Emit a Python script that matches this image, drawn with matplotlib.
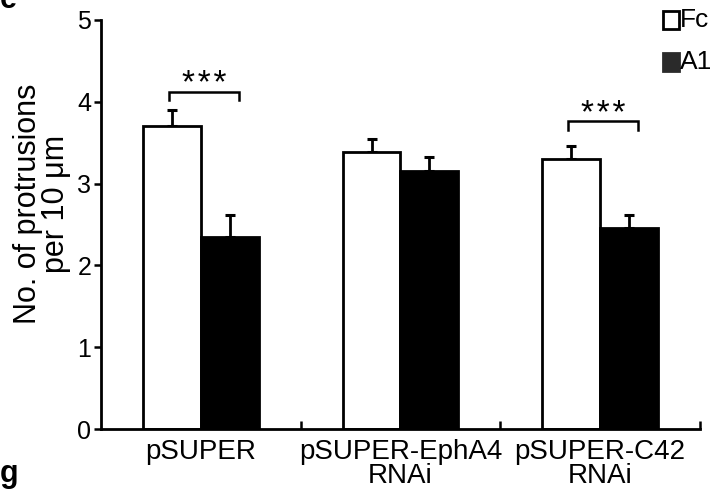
import matplotlib
matplotlib.use("Agg")
import matplotlib.pyplot as plt
from matplotlib.patches import Rectangle
import numpy as np

plt.rcParams['font.family'] = ['Liberation Sans', 'DejaVu Sans']

categories = ["pSUPER", "pSUPER-EphA4\nRNAi", "pSUPER-C42\nRNAi"]
fc_vals = [3.70, 3.39, 3.30]
fc_err = [0.20, 0.15, 0.16]
a1_vals = [2.35, 3.15, 2.46]
a1_err = [0.27, 0.17, 0.15]
series_names = ["Fc", "A1"]
yticks = [0, 1, 2, 3, 4, 5]
sig_labels = ["*\u200a*\u200a*", "", "*\u200a*\u200a*"]

fig = plt.figure(figsize=(7.19, 4.96), dpi=100)
ax = fig.add_axes([0.1405, 0.135, 0.833, 0.825])

centers = np.arange(len(categories)) + 0.5
w = 0.29
ax.bar(centers - w / 2, fc_vals, w, color="white", edgecolor="black", linewidth=2, zorder=2)
ax.bar(centers + w / 2, a1_vals, w, color="black", edgecolor="black", linewidth=2, zorder=2)
ax.errorbar(centers - w / 2, fc_vals, yerr=[np.zeros(3), fc_err], fmt="none",
            ecolor="black", elinewidth=2, capsize=3.5, capthick=2.2, zorder=1)
ax.errorbar(centers + w / 2, a1_vals, yerr=[np.zeros(3), a1_err], fmt="none",
            ecolor="black", elinewidth=2, capsize=3.5, capthick=2.2, zorder=1)

bracket_gap = [0.22, 0.0, 0.30]
for i, lab in enumerate(sig_labels):
    if not lab:
        continue
    top = max(fc_vals[i] + fc_err[i], a1_vals[i] + a1_err[i]) + bracket_gap[i]
    x0 = centers[i] - 0.16
    x1 = centers[i] + 0.19
    ax.plot([x0, x0, x1, x1], [top - 0.1, top, top, top - 0.1], color="black", lw=1.8,
            solid_joinstyle="miter")
    ax.text((x0 + x1) / 2, top - 0.02, lab, ha="center", va="baseline", fontsize=24)

ax.set_xlim(0, 3)
ax.set_ylim(0, 5)
ax.set_yticks(yticks)
ax.set_xticks(centers)
ax.set_xticklabels(categories, fontsize=20, linespacing=0.92)
ax.tick_params(axis="x", length=0, pad=7)
ax.set_xticks([1, 2, 3], minor=True)
ax.tick_params(axis="x", which="minor", direction="in", length=6, width=1.8)
ax.tick_params(axis="y", direction="out", length=5, width=1.8, labelsize=18, pad=2)
for s in ["top", "right"]:
    ax.spines[s].set_visible(False)
for s in ["left", "bottom"]:
    ax.spines[s].set_linewidth(2)

ax.set_ylabel("No. of protrusions\nper 10 μm", fontsize=22, linespacing=0.92)
ax.yaxis.set_label_coords(-0.05, 0.55)

# legend (manual, figure pixel coordinates converted to fraction)
W, H = 719.0, 496.0
leg_y = [20, 62]
leg_colors = ["white", "#2a2a2a"]
for name, yc, col in zip(series_names, leg_y, leg_colors):
    fig.patches.append(Rectangle((663 / W, 1 - (yc + 9) / H), 16 / W, 18 / H,
                                 facecolor=col, edgecolor="black" if col == "white" else col,
                                 linewidth=2, transform=fig.transFigure))
    fig.text(680 / W, 1 - yc / H, name, fontsize=19, va="center", ha="left")

fig.text(0.0, 1.0, "e", fontsize=22, fontweight="bold", va="center", ha="left")
fig.text(0.0, 1 - 474 / H, "g", fontsize=22, fontweight="bold", va="center", ha="left")

fig.savefig("out.png", dpi=100)
